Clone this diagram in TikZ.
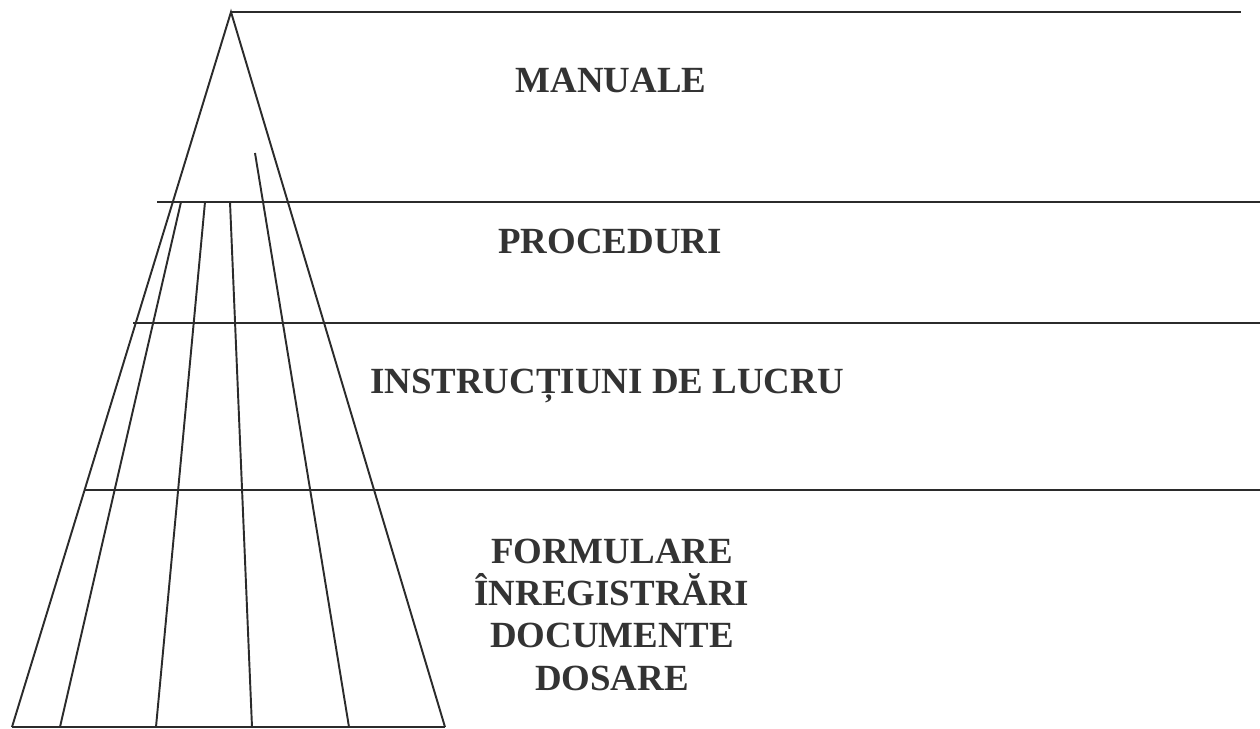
\documentclass[tikz,border=0pt]{standalone}
\usepackage{fontspec}
\setmainfont{Liberation Serif}
\usetikzlibrary{positioning}
\definecolor{ink}{HTML}{2B2B2B}
\definecolor{type}{HTML}{333333}

\begin{document}
\begin{tikzpicture}[x=0.02cm, y=-0.02cm,
  lvl/.style = {text=type, font=\fontsize{21}{24}\selectfont\bfseries, anchor=base, inner sep=0pt, align=center},
  rule/.style = {draw=ink, line width=1.4pt},
  rib/.style = {draw=ink, line width=1.1pt}]
\useasboundingbox (0,0) rectangle (1260,729);

% pyramid corners
\coordinate (apex) at (231,12);
\coordinate (bl) at (12,727);
\coordinate (br) at (445,727);

% level lines
\draw[rule] (apex) -- (1241,12);
\draw[rule] (157,202) -- (1260,202);
\draw[rule] (133,323) -- (1260,323);
\draw[rule] (85,490) -- (1260,490);

% outline
\draw[rib] (bl) -- (apex) -- (br);
\draw[rule] (bl) -- (br);

% inner ribs
\draw[rib] (181,202) -- (60,727);
\draw[rib] (205,202) -- (156,727);
\draw[rib] (230,202) -- (252,727);
\draw[rib] (255,153) -- (349,727);

% texts
\node[lvl] (man) at (611,93) {MANUALE};
\node[lvl] (proc) at (610,254) {PROCEDURI};
\node[lvl] (instr) at (607,393) {INSTRUCȚIUNI DE LUCRU};
\node[lvl] (form) at (612,690) {FORMULARE\\ÎNREGISTRĂRI\\DOCUMENTE\\DOSARE};
\end{tikzpicture}
\end{document}
